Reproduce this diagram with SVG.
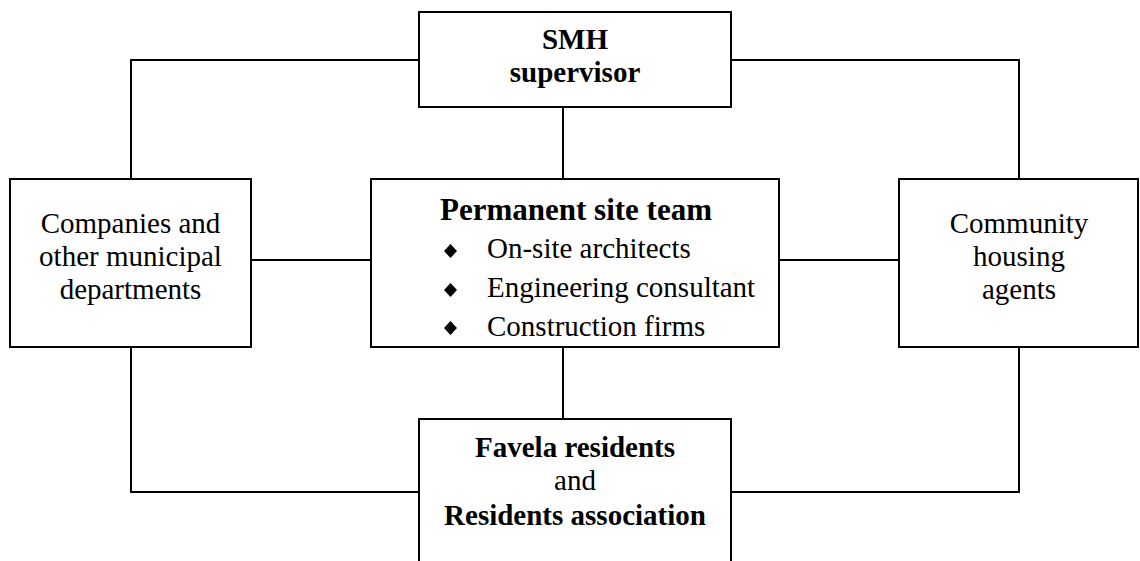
<svg xmlns="http://www.w3.org/2000/svg" width="1140" height="561" viewBox="0 0 1140 561">
  <style>
    .box { fill: #ffffff; stroke: #000000; stroke-width: 2; }
    .wire { fill: none; stroke: #000000; stroke-width: 2; }
    .t { font-family: "Liberation Serif", "Times New Roman", serif; font-size: 29px; fill: #000000; }
    .b { font-weight: bold; }
    .c { text-anchor: middle; }
  </style>
  <rect width="1140" height="561" fill="#ffffff"/>

  <!-- connectors -->
  <g id="connectors">
    <polyline class="wire" points="419,60 131,60 131,179"/>
    <polyline class="wire" points="731,60 1019,60 1019,179"/>
    <line class="wire" x1="563" y1="107" x2="563" y2="179"/>
    <line class="wire" x1="251" y1="260" x2="371" y2="260"/>
    <line class="wire" x1="779" y1="260" x2="899" y2="260"/>
    <line class="wire" x1="563" y1="347" x2="563" y2="419"/>
    <polyline class="wire" points="131,347 131,492 419,492"/>
    <polyline class="wire" points="1019,347 1019,492 731,492"/>
  </g>

  <g id="smh-supervisor">
    <rect class="box" x="419" y="12" width="312" height="95"/>
    <text class="t b c" x="575" y="49">SMH</text>
    <text class="t b c" x="575" y="82">supervisor</text>
  </g>

  <g id="companies">
    <rect class="box" x="10" y="179" width="241" height="168"/>
    <text class="t c" x="130.5" y="233">Companies and</text>
    <text class="t c" x="130.5" y="266">other municipal</text>
    <text class="t c" x="130.5" y="299">departments</text>
  </g>

  <g id="site-team">
    <rect class="box" x="371" y="179" width="408" height="168"/>
    <text class="t b" x="440" y="220" style="font-size:31px">Permanent site team</text>
    <polygon points="450.5,244 457,251 450.5,258 444,251"/>
    <text class="t" x="487" y="258">On-site architects</text>
    <polygon points="450.5,283 457,290 450.5,297 444,290"/>
    <text class="t" x="487" y="297">Engineering consultant</text>
    <polygon points="450.5,321 457,328 450.5,335 444,328"/>
    <text class="t" x="487" y="336">Construction firms</text>
  </g>

  <g id="housing-agents">
    <rect class="box" x="899" y="179" width="239" height="168"/>
    <text class="t c" x="1019" y="233">Community</text>
    <text class="t c" x="1019" y="266">housing</text>
    <text class="t c" x="1019" y="299">agents</text>
  </g>

  <g id="residents">
    <rect class="box" x="419" y="419" width="312" height="160"/>
    <text class="t b c" x="575" y="457">Favela residents</text>
    <text class="t c" x="575" y="490">and</text>
    <text class="t b c" x="575" y="525">Residents association</text>
  </g>
</svg>
